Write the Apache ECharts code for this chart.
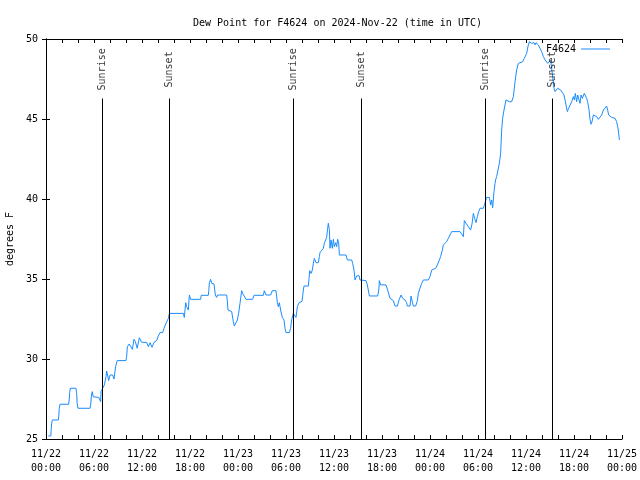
<!DOCTYPE html>
<html><head><meta charset="utf-8">
<script src="https://cdn.jsdelivr.net/npm/echarts@6/dist/echarts.min.js"></script>
<style>html,body{margin:0;padding:0;background:#fff}#c{width:640px;height:480px}</style>
</head><body><div id="c"></div>
<script>
const titleText = 'Dew Point for F4624 on 2024-Nov-22 (time in UTC)';
const seriesName = 'F4624';
const yAxisName = 'degrees F';
const xTickDates = ['11/22','11/22','11/22','11/22','11/23','11/23','11/23','11/23','11/24','11/24','11/24','11/24','11/25'];
const xTickTimes = ['00:00','06:00','12:00','18:00','00:00','06:00','12:00','18:00','00:00','06:00','12:00','18:00','00:00'];
const yTicks = [25, 30, 35, 40, 45, 50];
// hours since 2024-11-22 00:00 UTC
const hours = [
0.29,0.6,0.65,0.7,0.79,1.54,1.6,1.65,1.75,2.83,2.9,2.96,3.04,3.75,3.83,3.9,4.0,5.5,5.58,5.7,5.79,5.9,6.6,6.7,6.83,6.88,
7.08,7.3,7.5,7.58,7.7,7.83,8.0,8.33,8.5,8.7,8.9,10.0,10.08,10.17,10.4,10.6,10.8,11.0,11.17,11.4,11.67,11.96,12.58,12.8,
13.0,13.25,13.5,13.83,14.04,14.25,14.58,14.75,15.0,15.3,15.42,
17.17,17.29,17.46,17.58,17.79,17.92,18.08,19.33,19.4,20.29,20.35,20.42,20.58,20.71,21.0,21.17,21.33,21.46,22.58,22.65,
22.75,23.21,23.42,23.54,23.79,23.92,24.08,24.25,24.46,24.58,24.75,25.0,25.83,26.0,27.17,27.29,27.5,28.08,28.29,28.75,
28.92,29.04,29.17,29.33,29.54,29.75,29.88,30.0,30.42,30.58,30.71,30.92,31.13,31.25,31.42,31.63,32.0,32.17,32.25,32.79,
32.88,32.96,33.13,33.29,33.42,33.54,33.75,34.04,34.17,34.25,34.5,34.67,34.79,34.96,35.08,35.21,35.29,35.42,35.5,35.63,
35.79,35.92,36.04,36.21,36.33,36.46,36.58,36.67,37.5,37.67,38.21,38.33,38.5,38.63,38.83,39.13,39.25,39.46,40.0,40.17,
40.42,41.46,41.6,41.67,41.83,42.5,42.71,43.0,43.21,43.42,43.63,43.92,44.13,44.38,44.58,44.88,45.08,45.17,45.5,45.63,
45.79,45.92,46.21,46.42,46.54,46.75,46.96,47.17,47.79,48.0,48.21,48.71,48.92,49.17,49.33,49.54,49.67,49.88,50.08,50.29,
50.5,50.71,51.75,51.96,52.17,52.29,52.5,52.79,53.08,53.25,53.42,53.58,53.75,53.92,54.08,54.25,54.67,54.79,54.92,55.08,
55.42,55.58,55.71,55.83,56.0,56.13,56.2,56.33,56.54,56.67,56.83,56.96,57.08,57.25,57.5,57.67,57.92,58.21,58.42,58.63,
58.83,59.04,59.25,59.58,59.79,60.08,60.29,60.42,60.58,60.71,60.83,61.0,61.13,61.25,61.42,61.54,61.75,61.96,62.17,62.38,
62.5,62.71,62.92,63.08,63.21,63.33,63.5,63.63,63.83,63.96,64.13,64.33,64.58,64.75,64.88,65.0,65.17,65.33,65.5,65.71,
65.92,66.04,66.17,66.33,66.46,66.63,66.75,66.88,67.04,67.17,67.29,67.46,67.58,67.71,67.88,68.0,68.13,68.25,68.42,68.63,
68.83,69.04,69.25,69.46,69.67,69.88,70.08,70.21,70.33,70.5,70.71,70.92,71.13,71.33,71.46,71.54,71.67
];
const dewPoint = [
25.19,25.19,25.6,25.94,26.19,26.19,26.44,26.9,27.17,27.17,27.44,27.9,28.17,28.17,27.85,27.2,26.92,26.92,27.13,27.81,27.96,27.64,27.6,27.48,27.33,27.96,
28.06,28.38,28.9,29.25,29.0,28.65,29.0,29.0,28.75,29.52,29.9,29.9,30.15,30.77,30.94,30.94,30.6,31.23,31.08,30.67,31.33,31.04,31.04,30.77,
31.02,30.73,31.04,31.15,31.44,31.65,31.65,31.92,32.23,32.54,32.85,
32.85,32.6,33.52,33.27,33.06,34.0,33.73,33.73,33.98,33.98,34.27,34.77,34.98,34.73,34.69,34.0,33.85,34.0,34.0,33.73,
33.06,32.96,32.33,32.06,32.06,32.44,32.85,33.48,34.27,34.1,34.0,33.73,33.73,33.98,33.98,34.27,34.0,34.0,34.27,34.27,
33.52,33.27,33.52,33.06,32.6,32.44,31.92,31.65,31.65,31.92,32.44,32.85,32.75,32.6,33.27,33.52,33.6,34.31,34.56,34.56,
35.04,35.52,35.35,35.56,35.98,36.29,36.02,36.02,36.4,36.65,36.56,36.92,37.23,37.23,37.6,38.17,38.48,38.1,36.92,37.44,
36.92,37.48,37.02,37.27,37.02,37.48,37.27,36.5,36.5,36.19,36.19,35.98,35.56,34.94,35.19,35.21,34.94,34.94,34.9,34.63,
33.94,33.94,34.31,34.9,34.63,34.63,34.31,33.79,33.69,33.65,33.31,33.31,33.69,34.0,33.79,33.69,33.52,33.31,33.31,33.94,
33.58,33.31,33.31,33.65,34.1,34.42,34.73,34.94,34.94,35.15,35.56,35.67,35.88,36.19,36.4,36.81,37.13,37.23,37.33,37.54,
37.75,37.96,37.96,37.81,37.65,38.65,38.48,38.27,38.06,38.44,39.1,38.79,38.52,38.9,39.2,39.42,39.42,39.6,39.85,40.1,
40.1,39.63,39.94,39.45,40.46,40.98,41.19,41.4,41.4,42.23,42.86,44.31,45.04,45.56,46.19,46.29,46.08,46.08,46.4,47.33,
48.06,48.48,48.58,48.58,48.79,49.1,49.63,49.83,49.83,49.73,49.63,49.77,49.63,49.77,49.83,49.63,49.42,49.21,48.9,48.69,
48.58,48.48,48.58,48.69,48.58,47.65,46.92,46.71,46.81,46.92,47.02,46.81,46.81,46.5,46.19,45.88,45.46,45.67,45.77,46.08,
46.4,46.19,46.6,46.08,46.5,46.19,45.98,46.5,46.29,46.19,46.6,46.6,46.29,46.08,45.56,44.98,44.67,44.83,45.25,45.25,
45.15,44.98,45.04,45.25,45.56,45.67,45.81,45.56,45.25,45.25,45.1,45.04,45.04,44.83,44.52,44.31,43.69
];
const sunriseHours = [7.03, 30.92, 54.92];
const sunsetHours = [15.38, 39.42, 63.29];

const FONT = 'DejaVu Sans Mono';
const LINE_COLOR = '#1a8cff';
const lineData = hours.map((h, i) => [h, dewPoint[i]]);
const events = sunriseHours.map(h => [h, 'Sunrise']).concat(sunsetHours.map(h => [h, 'Sunset']));
const LINE_TOP = 46.28, LABEL_Y = 48.1;

const chart = echarts.init(document.getElementById('c'), null, {renderer: 'canvas'});
const xCommon = {
  type: 'value', min: 0, max: 72, interval: 6,
  axisLine: {show: true, lineStyle: {color: '#000', width: 1}},
  axisTick: {show: true, inside: true, length: 4, lineStyle: {color: '#000'}},
  minorTick: {show: true, splitNumber: 3, length: 4, lineStyle: {color: '#000'}},
  splitLine: {show: false}, minorSplitLine: {show: false}
};
const yCommon = {
  type: 'value', min: 25, max: 50, interval: 5,
  axisLine: {show: true, lineStyle: {color: '#000', width: 1}},
  axisTick: {show: true, inside: true, length: 4, lineStyle: {color: '#000'}},
  splitLine: {show: false}
};
chart.setOption({
  animation: false,
  backgroundColor: '#fff',
  title: {text: titleText, left: 188, top: 13,
    textStyle: {fontFamily: FONT, fontSize: 10, fontWeight: 'normal', color: '#000'}},
  legend: {data: [{name: seriesName, icon: 'rect', itemStyle: {color: LINE_COLOR}}],
    right: 30, top: 44, padding: 0, align: 'right',
    itemWidth: 29, itemHeight: 1, itemGap: 5,
    textStyle: {fontFamily: FONT, fontSize: 10, color: '#000'}},
  grid: {left: 46, right: 18, top: 39, bottom: 41, containLabel: false, outerBoundsMode: 'none'},
  xAxis: [
    Object.assign({}, xCommon, {position: 'bottom',
      axisLabel: {show: true, margin: 8, fontFamily: FONT, fontSize: 10, color: '#000', lineHeight: 14,
        showMinLabel: true, showMaxLabel: true, hideOverlap: false,
        formatter: v => { const i = Math.round(v / 6); return xTickDates[i] + '\n' + xTickTimes[i]; }}}),
    Object.assign({}, xCommon, {position: 'top', axisLabel: {show: false}})
  ],
  yAxis: [
    Object.assign({}, yCommon, {position: 'left', name: yAxisName, nameLocation: 'middle', nameGap: 31, nameRotate: 90,
      nameTextStyle: {fontFamily: FONT, fontSize: 10, color: '#000'},
      axisLabel: {show: true, margin: 8, fontFamily: FONT, fontSize: 10, color: '#000',
        formatter: v => yTicks.includes(v) ? String(v) : ''}}),
    Object.assign({}, yCommon, {position: 'right', axisLabel: {show: false}})
  ],
  series: [
    {
      name: seriesName, type: 'line', data: lineData, xAxisIndex: 0, yAxisIndex: 0,
      symbol: 'none', showSymbol: false, smooth: false,
      lineStyle: {color: LINE_COLOR, width: 1}, itemStyle: {color: LINE_COLOR},
      markLine: {
        silent: true, symbol: ['none', 'none'], animation: false,
        label: {show: false},
        lineStyle: {color: '#000', width: 1, type: 'solid'},
        data: events.map(e => [{coord: [e[0], 25]}, {coord: [e[0], LINE_TOP]}])
      },
      z: 3
    },
    {
      name: 'events', type: 'scatter', xAxisIndex: 0, yAxisIndex: 0,
      data: events.map(e => [e[0], LABEL_Y, e[1]]),
      symbolSize: 1, itemStyle: {color: 'rgba(0,0,0,0)'}, silent: true,
      label: {show: true, position: 'inside', rotate: 90, formatter: p => p.value[2],
        fontFamily: FONT, fontSize: 10, color: '#000'},
      z: 4
    }
  ]
});
</script></body></html>
